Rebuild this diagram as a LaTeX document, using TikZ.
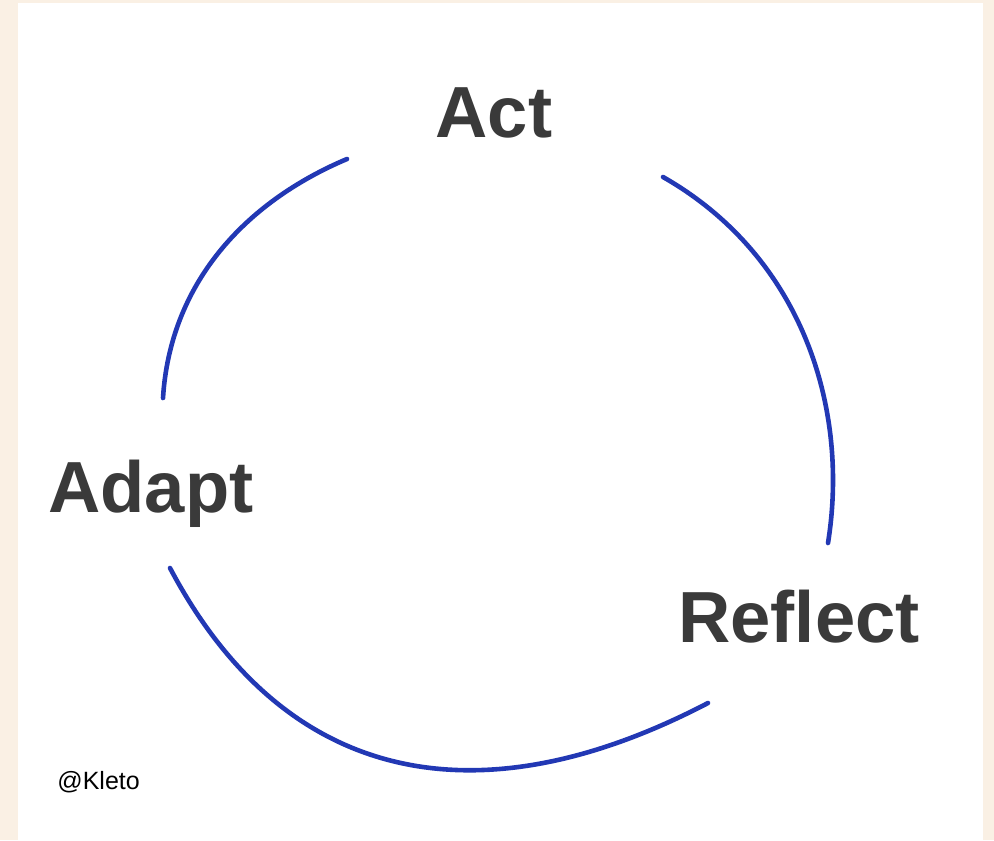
\documentclass[tikz,border=0pt]{standalone}
\usepackage{fontspec}
\setmainfont{Liberation Sans}
\usetikzlibrary{positioning}

\definecolor{creambg}{RGB}{250,240,228}
\definecolor{cycleblue}{RGB}{34,56,180}
\definecolor{labelgray}{RGB}{58,58,58}

\begin{document}
\begin{tikzpicture}[
    x=0.5pt, y=-0.5pt,
    stage/.style={
      anchor=base,
      inner sep=0pt,
      text=labelgray,
      font=\fontsize{36.2}{43}\selectfont\bfseries
    },
    credit/.style={
      anchor=base west,
      inner sep=0pt,
      text=black,
      font=\fontsize{12.5}{15}\selectfont
    },
    arc/.style={
      draw=cycleblue,
      line width=2.3pt,
      line cap=round
    }
  ]

  % Background
  \fill[creambg] (0,0) rectangle (994,840);
  \useasboundingbox (0,0) rectangle (994,840);
  \fill[white] (18,3) rectangle (983,840);

  % Nodes
  \node[stage] (act) at (494,137) {Act};
  \node[stage] (adapt) at (151,512) {Adapt};
  \node[stage] (reflect) at (799,642) {Reflect};
  \node[credit] (kleto) at (57,789) {@Kleto};

  % Arc ends
  \coordinate (act-w) at (347,159);
  \coordinate (act-e) at (663,177);
  \coordinate (reflect-n) at (828,543);
  \coordinate (reflect-w) at (708,703);
  \coordinate (adapt-s) at (170,568);
  \coordinate (adapt-n) at (163,398);

  % Arcs
  \draw[arc] (act-e) .. controls (800,255) and (850,405) .. (reflect-n);
  \draw[arc] (reflect-w) .. controls (478,823) and (285,785) .. (adapt-s);
  \draw[arc] (adapt-n) .. controls (170,285) and (243,203) .. (act-w);

\end{tikzpicture}
\end{document}
